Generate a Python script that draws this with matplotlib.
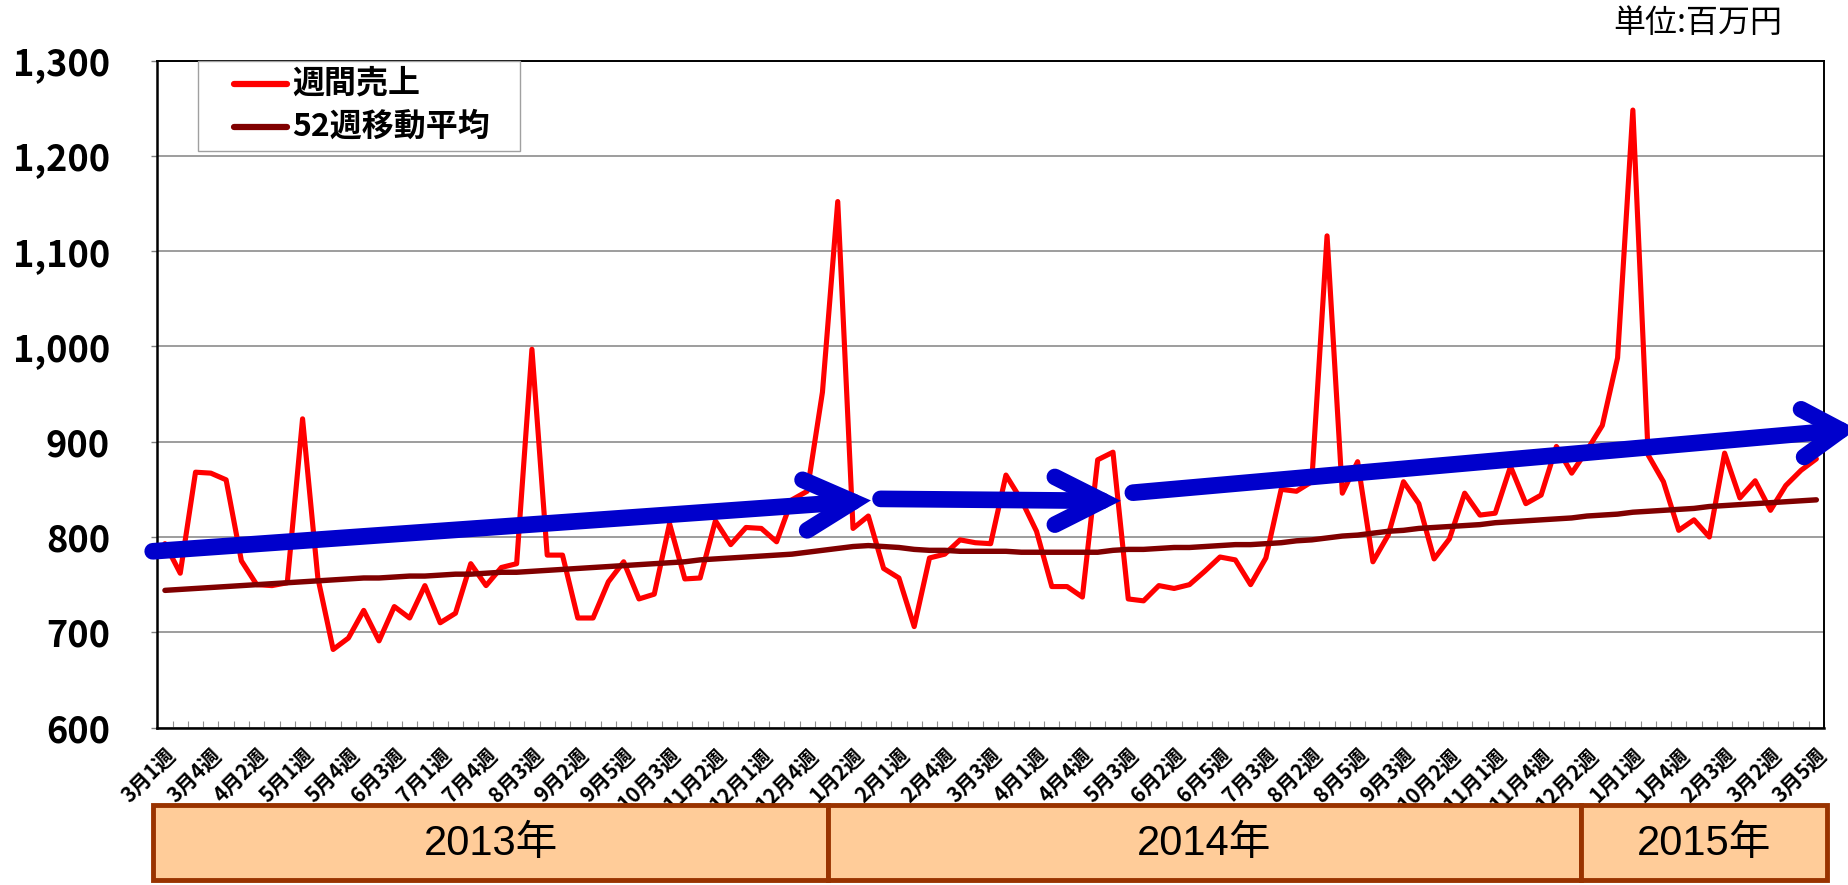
import matplotlib
matplotlib.use('Agg')
import matplotlib.pyplot as plt
from matplotlib.patches import Rectangle
import numpy as np

plt.rcParams['font.family'] = ['Noto Sans CJK JP', 'DejaVu Sans']

# ---------------- data ----------------
tick_labels = ['3月1週', '3月4週', '4月2週', '5月1週', '5月4週', '6月3週', '7月1週', '7月4週',
               '8月3週', '9月2週', '9月5週', '10月3週', '11月2週', '12月1週', '12月4週',
               '1月2週', '2月1週', '2月4週', '3月3週', '4月1週', '4月4週', '5月3週', '6月2週',
               '6月5週', '7月3週', '8月2週', '8月5週', '9月3週', '10月2週', '11月1週', '11月4週',
               '12月2週', '1月1週', '1月4週', '2月3週', '3月2週', '3月5週']

weekly_sales = [793, 762, 868, 867, 860, 775, 750, 749, 752, 924,
                757, 682, 694, 723, 691, 727, 715, 749, 710, 720,
                772, 749, 768, 772, 997, 781, 781, 715, 715, 753,
                774, 735, 740, 814, 756, 757, 817, 792, 810, 809,
                795, 839, 848, 952, 1152, 809, 822, 767, 757, 706,
                778, 782, 797, 794, 793, 865, 839, 806, 748, 748,
                737, 881, 889, 735, 733, 749, 746, 750, 764, 779,
                776, 750, 778, 850, 848, 858, 1116, 846, 879, 774,
                802, 858, 835, 777, 798, 846, 823, 825, 874, 835,
                844, 895, 867, 891, 917, 988, 1248, 886, 858, 807,
                818, 800, 888, 841, 859, 828, 854, 870, 882]

moving_avg_52 = [744, 745, 746, 747, 748, 749, 750, 751, 752, 753,
                 754, 755, 756, 757, 757, 758, 759, 759, 760, 761,
                 761, 762, 763, 763, 764, 765, 766, 767, 768, 769,
                 770, 771, 772, 773, 774, 776, 777, 778, 779, 780,
                 781, 782, 784, 786, 788, 790, 791, 790, 789, 787,
                 786, 786, 785, 785, 785, 785, 784, 784, 784, 784,
                 784, 784, 786, 787, 787, 788, 789, 789, 790, 791,
                 792, 792, 793, 794, 796, 797, 799, 801, 802, 804,
                 806, 807, 809, 810, 811, 812, 813, 815, 816, 817,
                 818, 819, 820, 822, 823, 824, 826, 827, 828, 829,
                 830, 832, 833, 834, 835, 836, 837, 838, 839]

series_names = ['週間売上', '52週移動平均']
years = ['2013年', '2014年', '2015年']
y_ticks = [600, 700, 800, 900, 1000, 1100, 1200, 1300]
unit_label = '単位:百万円'

# ---------------- figure ----------------
W, H = 1848, 885
fig = plt.figure(figsize=(W / 100, H / 100), dpi=100)

ax_l, ax_r, ax_t, ax_b = 157.3, 1824, 60.5, 727.6
ax = fig.add_axes([ax_l / W, 1 - ax_b / H, (ax_r - ax_l) / W, (ax_b - ax_t) / H])

x = np.arange(len(weekly_sales))
RED = '#FF0000'
BROWN = '#800000'
BLUE = '#0000CC'

ax.plot(x, weekly_sales, color=RED, lw=3.7, solid_joinstyle='round',
        solid_capstyle='round', zorder=3)
ax.plot(x, moving_avg_52, color=BROWN, lw=3.9, solid_joinstyle='round',
        solid_capstyle='round', zorder=4)

ax.set_xlim(-0.5, len(weekly_sales) - 0.5)
ax.set_ylim(y_ticks[0], y_ticks[-1])
ax.set_yticks(y_ticks)
ax.set_yticklabels([f'{v:,}' for v in y_ticks], fontsize=26, fontweight='bold')
ax.yaxis.grid(True, color='#8c8c8c', lw=1.2)
ax.set_axisbelow(True)
ax.tick_params(axis='y', length=4, width=1, color='#808080', pad=30)

ax.set_xticks(np.arange(0, len(weekly_sales), 3))
ax.set_xticklabels(tick_labels, fontsize=15, fontweight='bold')
for lbl in ax.get_xticklabels():
    lbl.set_rotation(45)
    lbl.set_ha('right')
    lbl.set_va('top')
    lbl.set_rotation_mode('anchor')
ax.tick_params(axis='x', which='major', length=0, pad=12)
ax.set_xticks(np.arange(-0.5, len(weekly_sales), 1), minor=True)
ax.tick_params(axis='x', which='minor', direction='in', length=5, width=0.8, color='#909090')

for side in ['left', 'bottom']:
    ax.spines[side].set_linewidth(1.8)
for side in ['top', 'right']:
    ax.spines[side].set_linewidth(1.4)
for s in ax.spines.values():
    s.set_color('black')


# ---------------- blue trend arrows (annotations) ----------------
def trend_arrow(x0, y0, x1, y1, up, down):
    ax.plot([x0, x1], [y0, y1], color=BLUE, lw=12, solid_capstyle='round',
            clip_on=False, zorder=6)
    ax.plot([up[0], x1, down[0]], [up[1], y1, down[1]], color=BLUE, lw=12,
            solid_capstyle='round', solid_joinstyle='miter', clip_on=False, zorder=6)


trend_arrow(-0.8, 785, 45.0, 837, (41.7, 860), (42.0, 807))
trend_arrow(46.8, 840, 61.3, 838, (58.2, 863), (58.2, 813))
trend_arrow(63.3, 846.5, 109.6, 912, (107.0, 934), (107.2, 884))

# ---------------- pixel overlay: legend, unit, year band ----------------
ov = fig.add_axes([0, 0, 1, 1], zorder=10)
ov.set_xlim(0, W)
ov.set_ylim(H, 0)
ov.axis('off')

# legend
ov.add_patch(Rectangle((198, 61), 322, 90, facecolor='white', edgecolor='#a0a0a0', lw=1.0))
ov.plot([234, 287], [84, 84], color=RED, lw=4.5, solid_capstyle='round')
ov.plot([234, 287], [127, 127], color=BROWN, lw=4.5, solid_capstyle='round')
ov.text(292, 84, series_names[0], fontsize=23, fontweight='bold', va='center', ha='left')
ov.text(292, 127, series_names[1], fontsize=23, fontweight='bold', va='center', ha='left')

# unit
ov.text(1782, 23, unit_label, fontsize=23, va='center', ha='right')

# year band
cells = [(153, 828), (828, 1581), (1581, 1827)]
band_top, band_bot = 805, 880
for (c0, c1), yr in zip(cells, years):
    ov.add_patch(Rectangle((c0, band_top), c1 - c0, band_bot - band_top,
                           facecolor='#FFCC99', edgecolor='#993300', lw=3.5))
    ov.text((c0 + c1) / 2, (band_top + band_bot) / 2 + 1, yr, fontsize=30,
            family=['Liberation Sans', 'Noto Sans CJK JP'], ha='center', va='center')

fig.savefig('out.png', dpi=100)
